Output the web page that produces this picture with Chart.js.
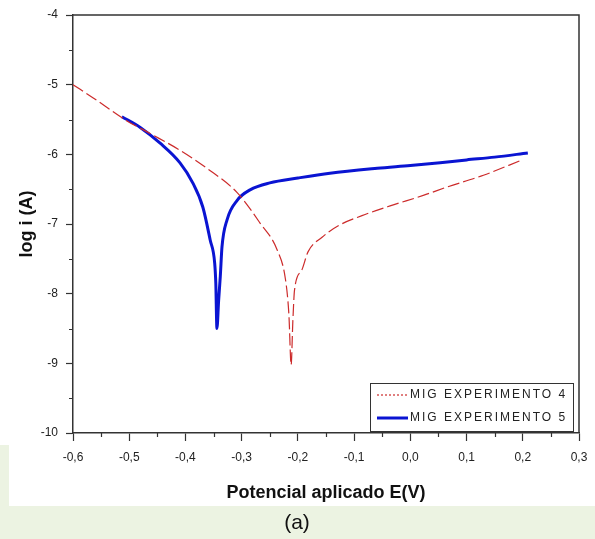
<!DOCTYPE html>
<html><head><meta charset="utf-8">
<script src="https://cdn.jsdelivr.net/npm/chart.js@4.4.0/dist/chart.umd.min.js"></script>
<style>html,body{margin:0;padding:0;background:#fff;overflow:hidden}#wrap{position:relative;width:595px;height:539px}</style>
</head><body><div id="wrap"><canvas id="c" width="595" height="539"></canvas></div>
<script>
const seriesLabels = ['MIG EXPERIMENTO 4', 'MIG EXPERIMENTO 5'];
const exp4E =    [-0.600, -0.564, -0.504, -0.463, -0.410, -0.362, -0.308, -0.267, -0.237, -0.222, -0.216, -0.212, -0.209, -0.206, -0.193, -0.182, -0.157, -0.127, -0.086, -0.036, 0.023, 0.065, 0.130, 0.199];
const exp4LogI = [-5.00, -5.19, -5.52, -5.70, -5.94, -6.20, -6.55, -6.99, -7.37, -7.80, -8.30, -9.02, -8.40, -7.95, -7.66, -7.40, -7.19, -7.02, -6.88, -6.74, -6.59, -6.47, -6.30, -6.08];
const exp5E =    [-0.513, -0.481, -0.445, -0.410, -0.387, -0.369, -0.356, -0.348, -0.346, -0.344, -0.341, -0.338, -0.335, -0.326, -0.308, -0.285, -0.250, -0.200, -0.143, -0.059, 0.000, 0.053, 0.100, 0.150, 0.209];
const exp5LogI = [-5.46, -5.61, -5.84, -6.12, -6.41, -6.76, -7.23, -7.56, -7.85, -8.50, -8.10, -7.75, -7.33, -6.94, -6.66, -6.51, -6.41, -6.34, -6.27, -6.20, -6.16, -6.12, -6.08, -6.04, -5.98];
const xTickValues = [-0.6, -0.5, -0.4, -0.3, -0.2, -0.1, 0.0, 0.1, 0.2, 0.3];
const yTickValues = [-10, -9, -8, -7, -6, -5, -4];
const xMinorTicks = [-0.55, -0.45, -0.35, -0.25, -0.15, -0.05, 0.05, 0.15, 0.25];
const yMinorTicks = [-9.5, -8.5, -7.5, -6.5, -5.5, -4.5];
const xTitle = 'Potencial aplicado E(V)';
const yTitle = 'log i (A)';
const panelLabel = '(a)';

const FONT = "'Liberation Sans', Arial, sans-serif";
const toPts = (xs, ys) => xs.map((x, i) => ({x: x, y: ys[i]}));

const bgPlugin = {
  id: 'bg',
  beforeDraw(chart) {
    const ctx = chart.ctx;
    ctx.save();
    ctx.fillStyle = '#ecf3e2';
    ctx.fillRect(0, 0, chart.width, chart.height);
    ctx.fillStyle = '#ffffff';
    ctx.fillRect(0, 0, chart.width, 445);
    ctx.fillRect(9, 0, chart.width - 9, 506);
    ctx.restore();
  }
};

const decoPlugin = {
  id: 'deco',
  afterDraw(chart) {
    const ctx = chart.ctx, a = chart.chartArea;
    const xs = chart.scales.x, ys = chart.scales.y;
    ctx.save();
    ctx.strokeStyle = '#333';
    ctx.lineWidth = 1.5;
    ctx.beginPath();
    ctx.moveTo(a.left, a.top); ctx.lineTo(a.right, a.top); ctx.lineTo(a.right, a.bottom);
    ctx.stroke();
    ctx.lineWidth = 1.2;
    ctx.beginPath();
    xMinorTicks.forEach(v => { const p = Math.round(xs.getPixelForValue(v)) + 0.5; ctx.moveTo(p, a.bottom); ctx.lineTo(p, a.bottom + 4); });
    yMinorTicks.forEach(v => { const p = Math.round(ys.getPixelForValue(v)) + 0.5; ctx.moveTo(a.left, p); ctx.lineTo(a.left - 4, p); });
    ctx.stroke();
    // legend
    const lx = 370, ly = 383, lw = 203, lh = 48;
    ctx.fillStyle = '#fff';
    ctx.fillRect(lx, ly, lw, lh);
    ctx.strokeStyle = '#333';
    ctx.lineWidth = 1;
    ctx.strokeRect(lx + 0.5, ly + 0.5, lw, lh);
    const rows = [ly + 12, ly + 35];
    chart.data.datasets.forEach((ds, i) => {
      ctx.strokeStyle = ds.borderColor;
      ctx.lineWidth = i === 0 ? 1.2 : 3;
      ctx.setLineDash(i === 0 ? [2, 2] : []);
      ctx.beginPath(); ctx.moveTo(lx + 7, rows[i]); ctx.lineTo(lx + 38, rows[i]); ctx.stroke();
      ctx.setLineDash([]);
      ctx.fillStyle = '#222';
      ctx.font = '12px ' + FONT;
      ctx.letterSpacing = '2px';
      ctx.textBaseline = 'middle';
      ctx.textAlign = 'left';
      ctx.fillText(ds.label, lx + 40, rows[i]);
    });
    ctx.letterSpacing = '0px';
    ctx.fillStyle = '#111';
    ctx.font = '21px ' + FONT;
    ctx.textAlign = 'center';
    ctx.textBaseline = 'middle';
    ctx.fillText(panelLabel, 297, 523);
    ctx.restore();
  }
};

new Chart(document.getElementById('c'), {
  type: 'line',
  data: {
    datasets: [
      {label: seriesLabels[0], data: toPts(exp4E, exp4LogI), borderColor: '#cc2b2b', borderWidth: 1.2, borderDash: [12, 4], pointRadius: 0, cubicInterpolationMode: 'monotone', fill: false},
      {label: seriesLabels[1], data: toPts(exp5E, exp5LogI), borderColor: '#0a14d2', borderWidth: 3, pointRadius: 0, cubicInterpolationMode: 'monotone', fill: false}
    ]
  },
  options: {
    responsive: false,
    devicePixelRatio: 1,
    animation: false,
    layout: {padding: {left: 0, right: 16, top: 15, bottom: 33}},
    plugins: {legend: {display: false}, tooltip: {enabled: false}},
    scales: {
      x: {
        type: 'linear', min: -0.6, max: 0.3,
        afterBuildTicks: s => { s.ticks = xTickValues.map(v => ({value: v})); },
        afterFit: s => { s.height = 73; s.paddingLeft = 0; s.paddingRight = 0; },
        grid: {drawOnChartArea: false, drawTicks: true, tickLength: 8, tickColor: '#333', tickWidth: 1.2},
        border: {display: true, color: '#333', width: 1.5},
        ticks: {padding: 9, color: '#222', font: {family: FONT, size: 12}, maxRotation: 0, autoSkip: false,
          callback: v => v.toFixed(1).replace('.', ',')},
        title: {display: true, text: xTitle, color: '#111', font: {family: FONT, size: 18, weight: 'bold'}, padding: {top: 0, bottom: 2}}
      },
      y: {
        type: 'linear', min: -10, max: -4,
        afterBuildTicks: s => { s.ticks = yTickValues.map(v => ({value: v})); },
        afterFit: s => { s.width = 73; s.paddingTop = 0; s.paddingBottom = 0; },
        grid: {drawOnChartArea: false, drawTicks: true, tickLength: 7, tickColor: '#333', tickWidth: 1.2},
        border: {display: true, color: '#333', width: 1.5},
        ticks: {padding: 8, color: '#222', font: {family: FONT, size: 12}, autoSkip: false,
          callback: v => String(v)},
        title: {display: true, text: yTitle, color: '#111', font: {family: FONT, size: 18, weight: 'bold'}, padding: {top: 16, bottom: 0}}
      }
    }
  },
  plugins: [bgPlugin, decoPlugin]
});
</script></body></html>
